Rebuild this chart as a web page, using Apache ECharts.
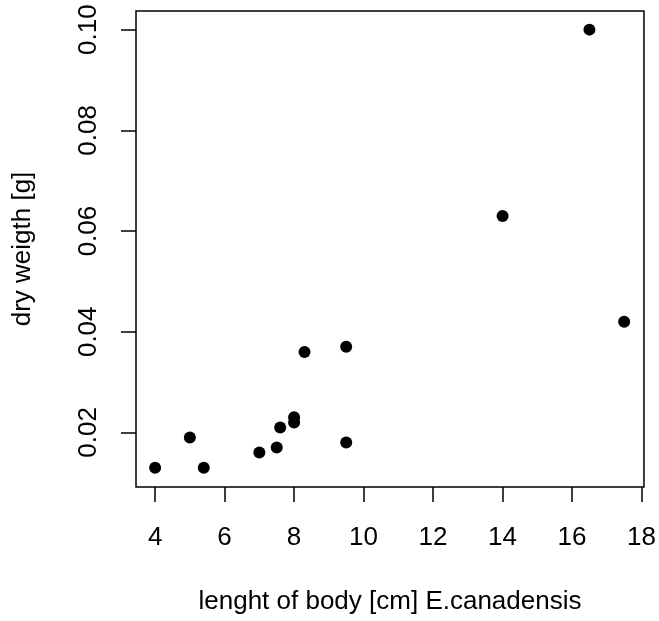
<!DOCTYPE html>
<html>
<head>
<meta charset="utf-8">
<script src="https://cdn.jsdelivr.net/npm/echarts@6/dist/echarts.min.js"></script>
<style>
html,body{margin:0;padding:0;background:#fff;}
#chart{width:659px;height:621px;}
</style>
</head>
<body>
<div id="chart"></div>
<script>
// Data
var bodyLength = [4, 5, 5.4, 7, 7.5, 7.6, 8, 8, 8.3, 9.5, 9.5, 14, 16.5, 17.5];
var dryWeight  = [0.013, 0.019, 0.013, 0.016, 0.017, 0.021, 0.022, 0.023, 0.036, 0.037, 0.018, 0.063, 0.100, 0.042];
var xTicks = [4, 6, 8, 10, 12, 14, 16, 18];
var yTicks = [0.02, 0.04, 0.06, 0.08, 0.10];
var xTitle = 'lenght of body [cm] E.canadensis';
var yTitle = 'dry weigth [g]';

var points = bodyLength.map(function (x, i) { return [x, dryWeight[i]]; });
var font = '"Liberation Sans", Arial, sans-serif';

var chart = echarts.init(document.getElementById('chart'));
chart.setOption({
  animation: false,
  backgroundColor: '#fff',
  grid: {
    left: 136, top: 11, width: 510, height: 476,
    show: true, borderColor: '#000', borderWidth: 1.5, backgroundColor: 'transparent'
  },
  xAxis: {
    type: 'value',
    min: 3.45, max: 18.07,
    splitLine: { show: false },
    axisLine: { show: false },
    axisTick: { show: true, length: 15, customValues: xTicks, lineStyle: { color: '#000', width: 1.5 } },
    axisLabel: { customValues: xTicks, margin: 38, color: '#000', fontSize: 26, fontFamily: font },
    name: xTitle,
    nameLocation: 'middle',
    nameGap: 102,
    nameTextStyle: { color: '#000', fontSize: 26, fontFamily: font }
  },
  yAxis: {
    type: 'value',
    min: 0.00917, max: 0.1037,
    splitLine: { show: false },
    axisLine: { show: false },
    axisTick: { show: true, length: 15, customValues: yTicks, lineStyle: { color: '#000', width: 1.5 } },
    axisLabel: {
      customValues: yTicks, rotate: 90, margin: 34, color: '#000', fontSize: 26, fontFamily: font,
      formatter: function (v) { return v.toFixed(2); }
    },
    name: yTitle,
    nameLocation: 'middle',
    nameGap: 100,
    nameTextStyle: { color: '#000', fontSize: 26, fontFamily: font }
  },
  series: [{
    type: 'scatter',
    data: points,
    symbol: 'circle',
    symbolSize: 12,
    itemStyle: { color: '#000', opacity: 1 }
  }]
});
</script>
</body>
</html>
